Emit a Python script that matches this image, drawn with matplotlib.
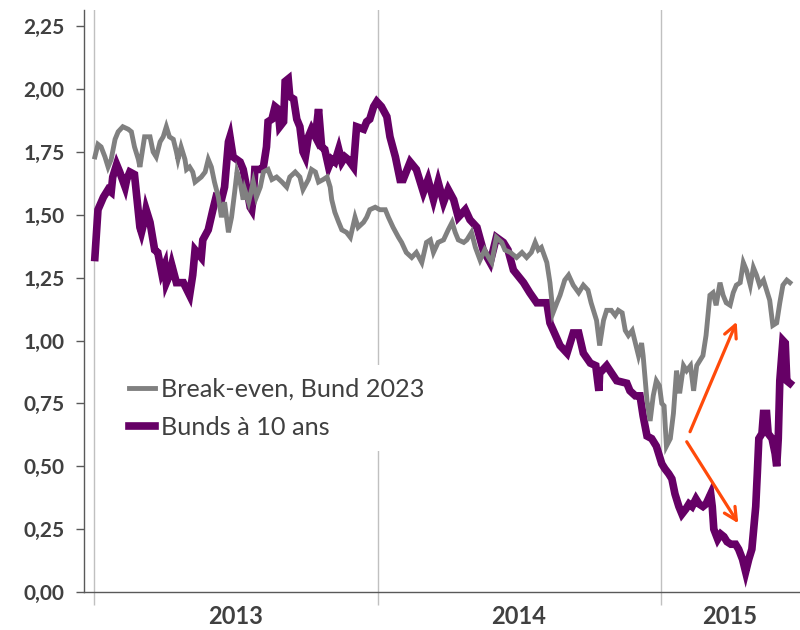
import numpy as np
import matplotlib
matplotlib.use("Agg")
import matplotlib.pyplot as plt
from matplotlib.ticker import FuncFormatter, NullFormatter
from matplotlib.lines import Line2D

plt.rcParams['font.family'] = ['Lato', 'DejaVu Sans']

START = np.datetime64('2013-01-01')

# Break-even inflation on the Bund 2023 (days since 1 Jan 2013, %)
breakeven_days = [1, 5, 9, 14, 18, 22, 27, 31, 37, 44, 48, 52, 57, 59, 63, 65, 72, 76, 80, 85,
                  89, 93, 97, 102, 106, 108, 112, 117, 119, 123, 127, 130, 134, 138, 143, 147, 151, 155, 160, 164,
                  168, 173, 177, 181, 184, 188, 192, 194, 199, 205, 209, 214, 218, 224, 229, 235, 242, 248, 252, 259,
                  265, 269, 276, 280, 285, 289, 295, 300, 304, 306, 310, 315, 319, 325, 330, 336, 340, 347, 351, 355,
                  362, 368, 375, 379, 385, 392, 396, 402, 409, 415, 422, 428, 433, 437, 443, 450, 456, 461, 465, 469,
                  476, 480, 486, 491, 497, 503, 508, 512, 518, 525, 529, 536, 544, 551, 557, 563, 568, 572, 576, 583,
                  587, 591, 596, 600, 606, 611, 617, 624, 630, 636, 640, 647, 651, 656, 660, 666, 671, 675, 680, 684,
                  688, 693, 697, 701, 705, 707, 712, 716, 720, 724, 728, 731, 734, 737, 742, 746, 750, 754, 759, 763,
                  768, 772, 776, 780, 784, 788, 793, 797, 801, 806, 810, 814, 819, 823, 827, 832, 836, 840, 845, 849,
                  853, 857, 862, 866, 870, 874, 879, 883, 887, 892, 896]
breakeven_vals = [1.73, 1.78, 1.77, 1.73, 1.69, 1.72, 1.80, 1.83, 1.85, 1.84, 1.83, 1.77, 1.72, 1.69, 1.77, 1.81, 1.81, 1.75, 1.73, 1.79,
                  1.81, 1.85, 1.81, 1.80, 1.75, 1.72, 1.77, 1.72, 1.68, 1.69, 1.67, 1.63, 1.64, 1.65, 1.67, 1.72, 1.69, 1.63, 1.57, 1.49,
                  1.55, 1.43, 1.49, 1.59, 1.67, 1.63, 1.56, 1.60, 1.55, 1.63, 1.57, 1.61, 1.67, 1.68, 1.64, 1.65, 1.63, 1.61, 1.65, 1.67,
                  1.65, 1.60, 1.64, 1.68, 1.67, 1.63, 1.64, 1.65, 1.61, 1.56, 1.51, 1.47, 1.44, 1.43, 1.41, 1.49, 1.45, 1.47, 1.49, 1.52,
                  1.53, 1.52, 1.52, 1.49, 1.45, 1.41, 1.39, 1.35, 1.33, 1.35, 1.31, 1.39, 1.40, 1.35, 1.39, 1.40, 1.44, 1.47, 1.43, 1.40,
                  1.39, 1.40, 1.43, 1.37, 1.32, 1.36, 1.33, 1.31, 1.41, 1.39, 1.36, 1.35, 1.33, 1.35, 1.33, 1.35, 1.39, 1.36, 1.37, 1.31,
                  1.23, 1.11, 1.15, 1.18, 1.24, 1.26, 1.22, 1.19, 1.22, 1.20, 1.15, 1.08, 0.98, 1.08, 1.12, 1.12, 1.10, 1.12, 1.11, 1.04,
                  1.02, 1.04, 0.99, 0.94, 0.99, 0.94, 0.76, 0.68, 0.78, 0.84, 0.82, 0.75, 0.74, 0.58, 0.61, 0.71, 0.88, 0.79, 0.90, 0.88,
                  0.90, 0.80, 0.90, 0.92, 0.94, 1.02, 1.18, 1.19, 1.14, 1.23, 1.18, 1.15, 1.14, 1.19, 1.22, 1.23, 1.31, 1.28, 1.22, 1.29,
                  1.26, 1.22, 1.24, 1.20, 1.16, 1.06, 1.07, 1.15, 1.22, 1.24, 1.23]

# 10-year Bund yield (days since 1 Jan 2013, %)
bund_days = [1, 5, 12, 18, 22, 24, 29, 33, 40, 42, 46, 52, 54, 59, 61, 65, 67, 72, 78, 82,
             87, 91, 93, 97, 100, 106, 115, 123, 127, 130, 138, 140, 147, 153, 157, 164, 168, 173, 175, 179,
             188, 192, 197, 201, 203, 205, 207, 214, 218, 222, 224, 229, 233, 237, 239, 244, 246, 250, 252, 257,
             261, 265, 269, 272, 276, 280, 285, 289, 293, 297, 302, 306, 310, 315, 319, 323, 327, 334, 338, 347,
             351, 355, 360, 364, 370, 377, 381, 388, 394, 398, 407, 415, 424, 430, 437, 443, 450, 456, 463, 469,
             478, 484, 493, 501, 510, 518, 527, 533, 540, 553, 561, 570, 583, 587, 600, 609, 617, 624, 630, 639,
             646, 650, 651, 660, 673, 686, 690, 697, 703, 707, 712, 718, 724, 727, 731, 735, 740, 744, 748, 753,
             757, 762, 766, 770, 775, 779, 784, 788, 794, 796, 798, 803, 807, 811, 815, 820, 826, 830, 835, 839,
             843, 847, 852, 854, 856, 860, 862, 866, 868, 873, 877, 879, 881, 883, 887, 890, 892, 896]
bund_vals = [1.33, 1.52, 1.57, 1.60, 1.59, 1.65, 1.70, 1.67, 1.61, 1.64, 1.67, 1.66, 1.60, 1.45, 1.43, 1.48, 1.52, 1.47, 1.36, 1.35,
             1.27, 1.30, 1.23, 1.26, 1.30, 1.23, 1.23, 1.18, 1.26, 1.36, 1.33, 1.40, 1.44, 1.52, 1.57, 1.56, 1.61, 1.79, 1.81, 1.73,
             1.71, 1.68, 1.60, 1.53, 1.52, 1.57, 1.68, 1.68, 1.69, 1.77, 1.87, 1.88, 1.93, 1.92, 1.85, 1.87, 2.03, 2.04, 1.97, 1.96,
             1.88, 1.85, 1.75, 1.73, 1.81, 1.84, 1.81, 1.92, 1.77, 1.76, 1.69, 1.72, 1.71, 1.76, 1.71, 1.73, 1.72, 1.69, 1.85, 1.84,
             1.87, 1.88, 1.93, 1.95, 1.93, 1.89, 1.81, 1.73, 1.64, 1.64, 1.71, 1.68, 1.59, 1.64, 1.56, 1.63, 1.55, 1.60, 1.56, 1.49,
             1.52, 1.48, 1.45, 1.36, 1.31, 1.41, 1.39, 1.36, 1.28, 1.23, 1.19, 1.15, 1.15, 1.07, 0.98, 0.95, 1.03, 1.03, 0.95, 0.91,
             0.90, 0.80, 0.87, 0.90, 0.84, 0.83, 0.80, 0.78, 0.78, 0.70, 0.62, 0.61, 0.58, 0.55, 0.51, 0.49, 0.47, 0.45, 0.39, 0.34,
             0.31, 0.33, 0.35, 0.34, 0.37, 0.35, 0.34, 0.35, 0.39, 0.34, 0.25, 0.21, 0.23, 0.22, 0.20, 0.19, 0.19, 0.17, 0.13, 0.08,
             0.13, 0.17, 0.34, 0.47, 0.61, 0.63, 0.71, 0.71, 0.63, 0.61, 0.55, 0.50, 0.61, 0.84, 1.00, 0.99, 0.84, 0.83]

series_labels = ['Break-even, Bund 2023', 'Bunds à 10 ans']
year_labels = ['2013', '2014', '2015']
year_starts = ['2013-01-01', '2014-01-01', '2015-01-01']
y_ticks = [0.0, 0.25, 0.5, 0.75, 1.0, 1.25, 1.5, 1.75, 2.0, 2.25]

GRAY = '#808080'
PURPLE = '#660066'
ARROW = '#FF4A0A'
TEXT = '#404040'
AXIS = '#595959'
GRID = '#C0C0C0'
LW_GRAY = 3.5
LW_PURPLE = 5.5


def to_dates(days):
    return START + np.array(days, dtype='timedelta64[D]')


fig = plt.figure(figsize=(8, 6.3), dpi=100)
ax = fig.add_axes([0.105, 0.0603, 0.895, 0.9238])

x_lo = START - np.timedelta64(13, 'D')
x_hi = START + np.timedelta64(909, 'D')
ax.set_xlim(x_lo, x_hi)
ax.set_ylim(0, 2.314)

ax.plot(to_dates(bund_days), bund_vals, color=PURPLE, lw=LW_PURPLE, zorder=3,
        solid_joinstyle='miter')
ax.plot(to_dates(breakeven_days), breakeven_vals, color=GRAY, lw=LW_GRAY, zorder=4,
        solid_joinstyle='miter')

# y axis
ax.set_yticks(y_ticks)
ax.yaxis.set_major_formatter(FuncFormatter(lambda v, p: f"{v:.2f}".replace('.', ',')))
ax.tick_params(axis='y', direction='out', length=6, width=1, color=AXIS,
               labelsize=15, labelcolor=TEXT, pad=8)
for lab in ax.get_yticklabels():
    lab.set_fontweight('bold')

# x axis: year boundaries as gridlines, year names centred in each span
starts = np.array(year_starts, dtype='datetime64[D]')
ax.set_xticks(starts)
ax.xaxis.set_major_formatter(NullFormatter())
ax.tick_params(axis='x', which='major', direction='out', length=9, width=1, color=GRID)
ax.grid(axis='x', which='major', color=GRID, lw=1.0, zorder=1)
ends = np.append(starts[1:], np.datetime64(x_hi, 'D'))
mids = starts + (ends - starts) / 2
ax.set_xticks(mids, minor=True)
ax.set_xticklabels(year_labels, minor=True)
ax.tick_params(axis='x', which='minor', length=0, labelsize=17, labelcolor=TEXT, pad=9)
for lab in ax.get_xticklabels(minor=True):
    lab.set_fontweight('bold')

for side in ('top', 'right'):
    ax.spines[side].set_visible(False)
for side in ('left', 'bottom'):
    ax.spines[side].set_color(AXIS)
    ax.spines[side].set_linewidth(1.0)
ax.set_axisbelow(True)

handles = [Line2D([], [], color=GRAY, lw=LW_GRAY), Line2D([], [], color=PURPLE, lw=LW_PURPLE)]
leg = ax.legend(handles, series_labels, loc='upper left', bbox_to_anchor=(0.028, 0.412),
                frameon=True, facecolor='white', edgecolor='none', framealpha=1,
                fontsize=18.2, handlelength=1.0, handletextpad=0.25, labelspacing=0.6,
                borderpad=0.5, fancybox=False)
for t in leg.get_texts():
    t.set_color(TEXT)

# arrows pointing at the diverging moves
arrow_kw = dict(arrowstyle='->,head_length=0.9,head_width=0.45', color=ARROW, lw=2.3,
                shrinkA=0, shrinkB=0)
ax.annotate('', xy=(0.9116, 0.4644), xytext=(0.8464, 0.2754), xycoords='axes fraction',
            arrowprops=arrow_kw, zorder=6)
ax.annotate('', xy=(0.9138, 0.1180), xytext=(0.8418, 0.2582), xycoords='axes fraction',
            arrowprops=arrow_kw, zorder=6)

fig.savefig('out.png', dpi=100, facecolor='white')
